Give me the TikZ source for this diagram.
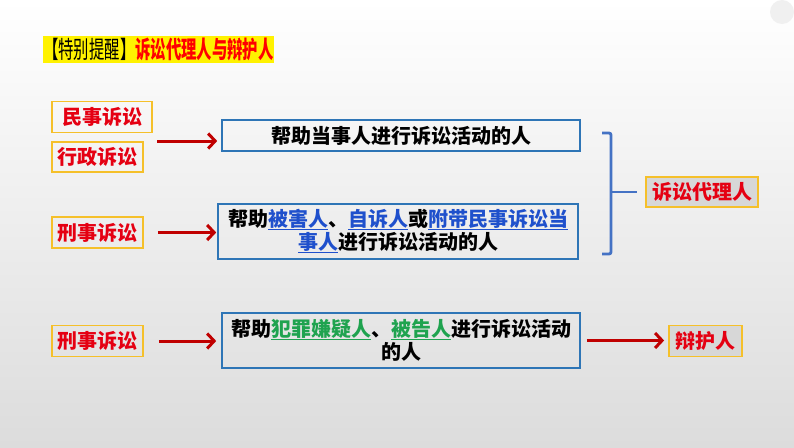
\documentclass[tikz,border=0pt]{standalone}
\usepackage{fontspec}
\setmainfont{Noto Sans CJK SC}
\newfontfamily\biaoti[FakeStretch=0.64]{Noto Sans CJK SC}
\usepackage{tikz}
\usetikzlibrary{arrows.meta,positioning,calc}
\definecolor{hong}{HTML}{E50012}
\definecolor{anhong}{HTML}{C00000}
\definecolor{jin}{HTML}{F5C02A}
\definecolor{lankuang}{HTML}{2E75B6}
\definecolor{lanzi}{HTML}{1F50CC}
\definecolor{lvzi}{HTML}{1FA34F}
\definecolor{kuohao}{HTML}{4472C4}
\definecolor{bgdi}{HTML}{DCDCDC}
\newsavebox{\xianbox}
\newcommand{\xian}[2]{\leavevmode\sbox{\xianbox}{\color{#1}#2}\rlap{\textcolor{#1}{\rule[-3.5pt]{\wd\xianbox}{1.4pt}}}\usebox{\xianbox}}
\newcommand{\lanx}[1]{\xian{lanzi}{#1}}
\newcommand{\lvx}[1]{\xian{lvzi}{#1}}

\begin{document}
\begin{tikzpicture}[x=1pt, y=-1pt, font=\fontsize{20}{23}\selectfont\bfseries,
  lei/.style={draw=jin, line width=1.8pt, inner sep=0pt, text=hong, minimum height=31pt},
  shuo/.style={draw=lankuang, line width=1.6pt, align=center, inner sep=0pt, minimum width=358pt},
  jie/.style={draw=jin, line width=1.8pt, fill=bgdi!95!gray, inner sep=0pt, text=hong, minimum height=30pt},
  jian/.style={draw=anhong, line width=3pt, -{Straight Barb[length=7pt,width=15pt]}}]
  \useasboundingbox (0,0) rectangle (794,447);
  \shade[top color=white, bottom color=bgdi] (0,0) rectangle (794,447);
  \fill[gray!12] (782,12) circle (12);
  % title
  \node[fill=yellow, inner sep=0pt, minimum height=27pt, anchor=west, font=\fontsize{24}{26}\selectfont] (ti) at (43,49.5)
    {\biaoti\mdseries 【特别提醒】\textcolor{red}{\bfseries 诉讼代理人与辩护人}};
  % left labels
  \node[lei, minimum width=100pt] (ms) at (102,117) {民事诉讼};
  \node[lei, minimum width=91pt, minimum height=30pt] (xz) at (97.5,157) {行政诉讼};
  \node[lei, minimum width=91pt] (xs1) at (97.5,232.5) {刑事诉讼};
  \node[lei, minimum width=91pt] (xs2) at (97.5,341) {刑事诉讼};
  % middle boxes
  \node[shuo, minimum height=31pt] (bA) at (401,135.5) {帮助当事人进行诉讼活动的人};
  \node[shuo, minimum width=360pt, minimum height=55pt] (bB) at (398,231.5)
    {帮助\lanx{被害人}、\lanx{自诉人}或\lanx{附带民事诉讼当}\\\lanx{事人}进行诉讼活动的人};
  \node[shuo, minimum height=55pt] (bC) at (401,340.5)
    {帮助\lvx{犯罪嫌疑人}、\lvx{被告人}进行诉讼活动\\的人};
  % results
  \node[jie, minimum width=112pt] (dl) at (702,192) {诉讼代理人};
  \node[jie, minimum width=73pt, minimum height=31pt] (bh) at (705.5,341) {辩护人};
  % arrows
  \coordinate (s1) at (157,141);
  \draw[jian, shorten >=4pt] (s1) -- (s1 -| bA.west);
  \draw[jian, shorten <=14pt, shorten >=1pt] (xs1.east) -- (xs1.east -| bB.west);
  \draw[jian, shorten <=15pt, shorten >=5pt] (xs2.east) -- (xs2.east -| bC.west);
  \draw[jian, shorten <=6pt, shorten >=4pt] (bC.east) -- (bC.east -| bh.west);
  % bracket
  \draw[kuohao, line width=2.8pt, rounded corners=2pt] (602,133) -- (611,133) -- (611,254) -- (602,254);
  \coordinate (kz) at (611,192);
  \draw[kuohao, line width=2.5pt, shorten >=8pt] (kz) -- (dl.west);
\end{tikzpicture}
\end{document}
